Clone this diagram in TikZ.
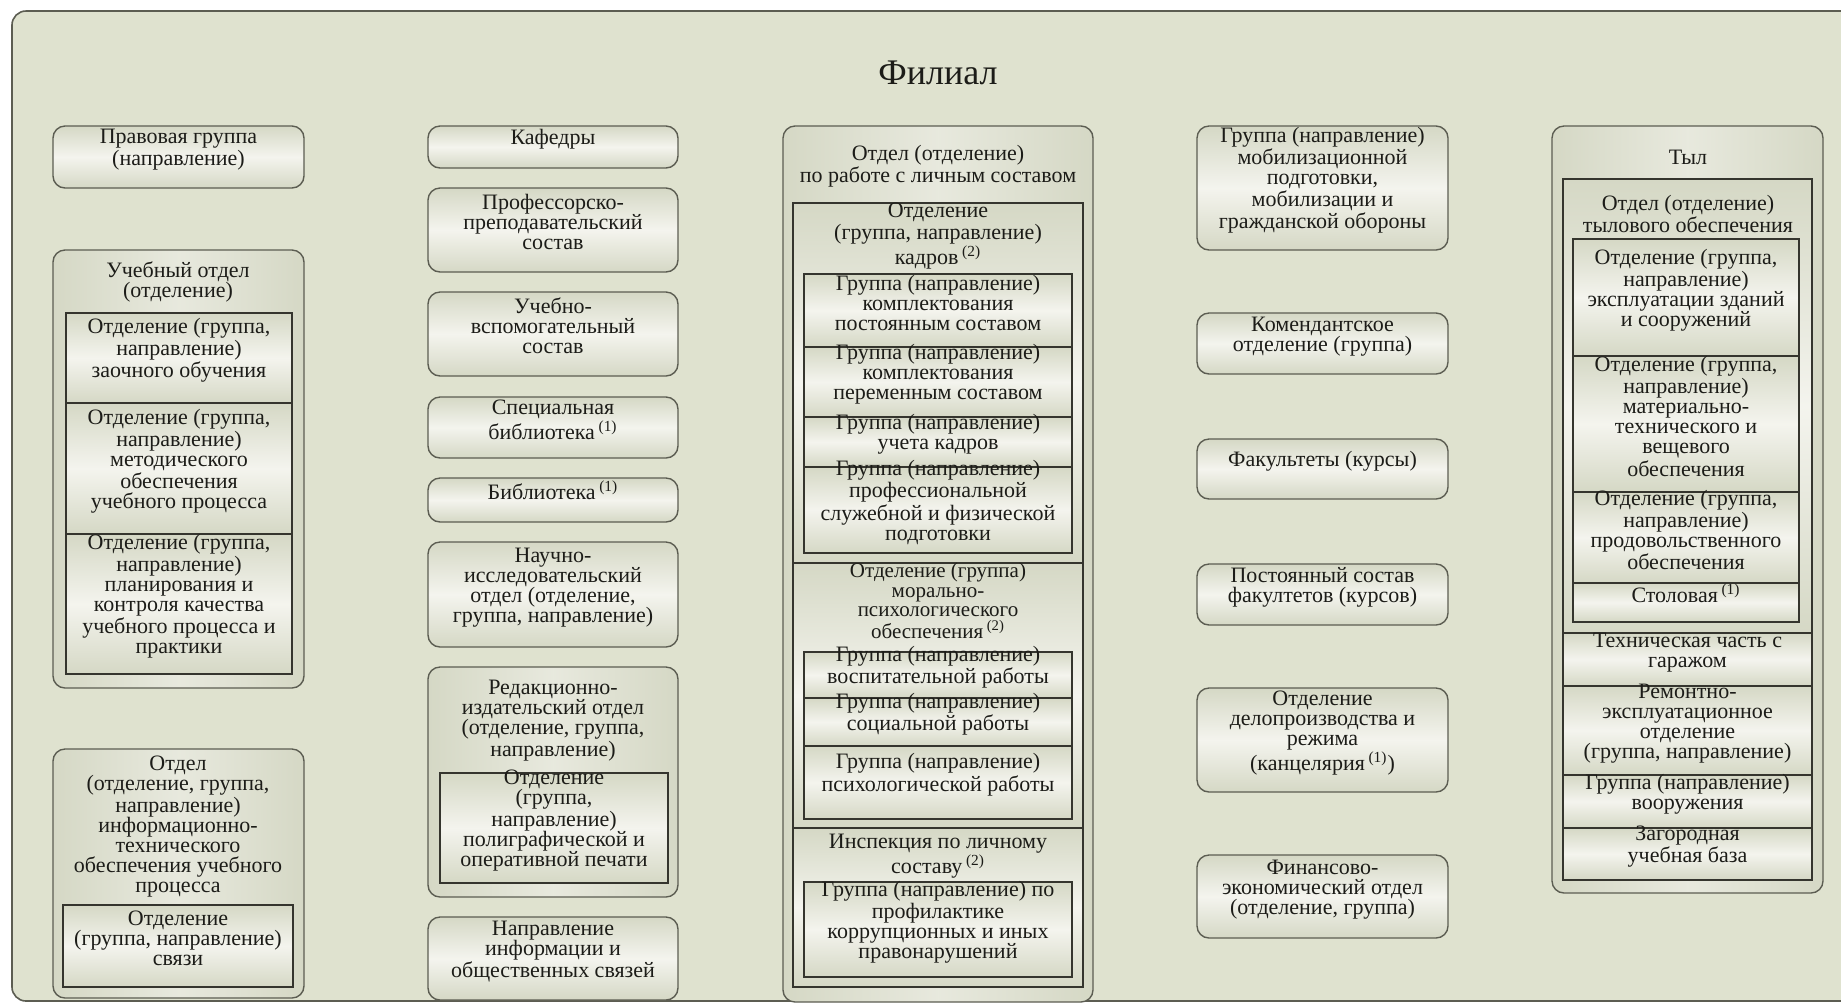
\documentclass[tikz,border=0pt]{standalone}
\usepackage{fontspec}
\setmainfont{Liberation Serif}
\usetikzlibrary{fit}
\newcommand{\Note}[1]{\textsuperscript{(#1)}}

\definecolor{frameback}{HTML}{DFE2CF}
\definecolor{frameline}{HTML}{5C5D52}
\definecolor{shadeedge}{HTML}{D5D8C5}
\definecolor{shadelight}{HTML}{F4F4EE}
\definecolor{cellline}{HTML}{35352E}
\definecolor{textcol}{HTML}{1C1C18}

\tikzset{
  framebox/.style={draw=frameline, line width=0.8pt, rounded corners=7pt, inner sep=0pt, fill=frameback},
  leafbox/.style={draw=frameline, line width=0.7pt, rounded corners=6pt, inner sep=0pt, align=center,
    top color=shadeedge, bottom color=shadeedge, middle color=shadelight},
  unitbox/.style={draw=frameline, line width=0.7pt, rounded corners=6pt, inner sep=0pt,
    left color=shadeedge, right color=shadeedge, middle color=shadelight!60!shadeedge},
  cellbox/.style={draw=cellline, line width=1pt, inner sep=0pt, align=center,
    top color=shadeedge, bottom color=shadeedge, middle color=shadelight},
  headtext/.style={align=center, inner sep=0pt},
}

\begin{document}
\begin{tikzpicture}[x=0.5pt, y=-0.5pt, font=\fontsize{11}{10}\selectfont, text=textcol]

    \fill[white] (0,0) rectangle (1841,1003);
    \useasboundingbox (0,0) rectangle (1841,1003);
    \clip (0,0) rectangle (1841,1003);

    \node[framebox, fit={(12,11) (1880,1001)}] (F) {};
    \draw(938,73) node[headtext, font=\fontsize{18}{20}\selectfont] (Ft) {Филиал};

    % first column
    \node[leafbox, fit={(53,126) (304,188)}] (A1) {Правовая группа\\(направление)};
    \node[unitbox, fit={(53,250) (304,688)}] (A2) {};
    \draw(178,282) node[headtext] (A2t) {Учебный отдел\\(отделение)};
    \node[cellbox, fit={(66,313) (292,403)}] (A21) {Отделение (группа,\\направление)\\заочного обучения};
    \node[cellbox, fit={(66,403) (292,534)}] (A22) {Отделение (группа,\\направление)\\методического\\обеспечения\\учебного процесса};
    \node[cellbox, fit={(66,534) (292,674)}] (A23) {Отделение (группа,\\направление)\\планирования и\\контроля качества\\учебного процесса и\\практики};
    \node[unitbox, fit={(53,749) (304,998)}] (A3) {};
    \draw(178,827) node[headtext] (A3t) {Отдел\\(отделение, группа,\\направление)\\информационно-\\технического\\обеспечения учебного\\процесса};
    \node[cellbox, fit={(63,905) (293,987)}] (A31) {Отделение\\(группа, направление)\\связи};

    % second column
    \node[leafbox, fit={(428,126) (678,168)}] (B1) {Кафедры};
    \node[leafbox, fit={(428,188) (678,272)}] (B2) {Профессорско-\\преподавательский\\состав};
    \node[leafbox, fit={(428,292) (678,376)}] (B3) {Учебно-\\вспомогательный\\состав};
    \node[leafbox, fit={(428,397) (678,458)}] (B4) {Специальная\\библиотека\,\Note{1}};
    \node[leafbox, fit={(428,478) (678,522)}] (B5) {Библиотека\,\Note{1}};
    \node[leafbox, fit={(428,542) (678,647)}] (B6) {Научно-\\исследовательский\\отдел (отделение,\\группа, направление)};
    \node[unitbox, fit={(428,667) (678,897)}] (B7) {};
    \draw(553,721) node[headtext] (B7t) {Редакционно-\\издательский отдел\\(отделение, группа,\\направление)};
    \node[cellbox, fit={(440,773) (668,883)}] (B71) {Отделение\\(группа,\\направление)\\полиграфической и\\оперативной печати};
    \node[leafbox, fit={(428,917) (678,1000)}] (B8) {Направление\\информации и\\общественных связей};

    % third column
    \node[unitbox, fit={(783,126) (1093,1002)}] (C) {};
    \draw(938,166) node[headtext] (Ct) {Отдел (отделение)\\по работе с личным составом};
    \node[cellbox, fit={(793,203) (1083,563)}] (C1) {};
    \draw(938,236) node[headtext, font=\fontsize{11}{9.5}\selectfont] (C1t) {Отделение\\(группа, направление)\\кадров\,\Note{2}};
    \node[cellbox, fit={(804,274) (1072,347)}] (C11) {Группа (направление)\\комплектования\\постоянным составом};
    \node[cellbox, fit={(804,347) (1072,417)}] (C12) {Группа (направление)\\комплектования\\переменным составом};
    \node[cellbox, fit={(804,417) (1072,467)}] (C13) {Группа (направление)\\учета кадров};
    \node[cellbox, fit={(804,467) (1072,553)}] (C14) {Группа (направление)\\профессиональной\\служебной и физической\\подготовки};
    \node[cellbox, fit={(793,563) (1083,828)}] (C2) {};
    \draw(938,601) node[headtext, font=\fontsize{10.5}{9.6}\selectfont] (C2t) {Отделение (группа)\\морально-\\психологического\\[1.5pt]обеспечения\,\Note{2}};
    \node[cellbox, fit={(804,652) (1072,698)}] (C21) {Группа (направление)\\воспитательной работы};
    \node[cellbox, fit={(804,698) (1072,746)}] (C22) {Группа (направление)\\социальной работы};
    \node[cellbox, fit={(804,746) (1072,819)}] (C23) {Группа (направление)\\психологической работы};
    \node[cellbox, fit={(793,828) (1083,987)}] (C3) {};
    \draw(938,856) node[headtext] (C3t) {Инспекция по личному\\составу\,\Note{2}};
    \node[cellbox, fit={(804,882) (1072,977)}] (C31) {Группа (направление) по\\профилактике\\коррупционных и иных\\правонарушений};

    % fourth column
    \node[leafbox, fit={(1197,126) (1448,250)}] (D1) {Группа (направление)\\мобилизационной\\подготовки,\\мобилизации и\\гражданской обороны};
    \node[leafbox, fit={(1197,313) (1448,374)}] (D2) {Комендантское\\отделение (группа)};
    \node[leafbox, fit={(1197,439) (1448,499)}] (D3) {Факультеты (курсы)};
    \node[leafbox, fit={(1197,564) (1448,625)}] (D4) {Постоянный состав\\факултетов (курсов)};
    \node[leafbox, fit={(1197,688) (1448,792)}] (D5) {Отделение\\делопроизводства и\\режима\\(канцелярия\,\Note{1})};
    \node[leafbox, fit={(1197,855) (1448,938)}] (D6) {Финансово-\\экономический отдел\\(отделение, группа)};

    % fifth column
    \node[unitbox, fit={(1552,126) (1823,893)}] (E) {};
    \draw(1688,157) node[headtext] (Et) {Тыл};
    \node[cellbox, fit={(1563,179) (1812,633)}] (E1) {};
    \draw(1688,214) node[headtext] (E1t) {Отдел (отделение)\\тылового обеспечения};
    \node[cellbox, fit={(1573,239) (1799,356)}] (E11) {Отделение (группа,\\направление)\\эксплуатации зданий\\и сооружений};
    \node[cellbox, fit={(1573,356) (1799,492)}] (E12) {Отделение (группа,\\направление)\\материально-\\технического и\\вещевого\\обеспечения};
    \node[cellbox, fit={(1573,492) (1799,583)}] (E13) {Отделение (группа,\\направление)\\продовольственного\\обеспечения};
    \node[cellbox, fit={(1573,583) (1799,622)}] (E14) {Столовая\,\Note{1}};
    \node[cellbox, fit={(1563,633) (1812,686)}] (E2) {Техническая часть с\\гаражом};
    \node[cellbox, fit={(1563,686) (1812,775)}] (E3) {Ремонтно-\\эксплуатационное\\отделение\\(группа, направление)};
    \node[cellbox, fit={(1563,775) (1812,828)}] (E4) {Группа (направление)\\вооружения};
    \node[cellbox, fit={(1563,828) (1812,880)}] (E5) {Загородная\\учебная база};

\end{tikzpicture}
\end{document}
